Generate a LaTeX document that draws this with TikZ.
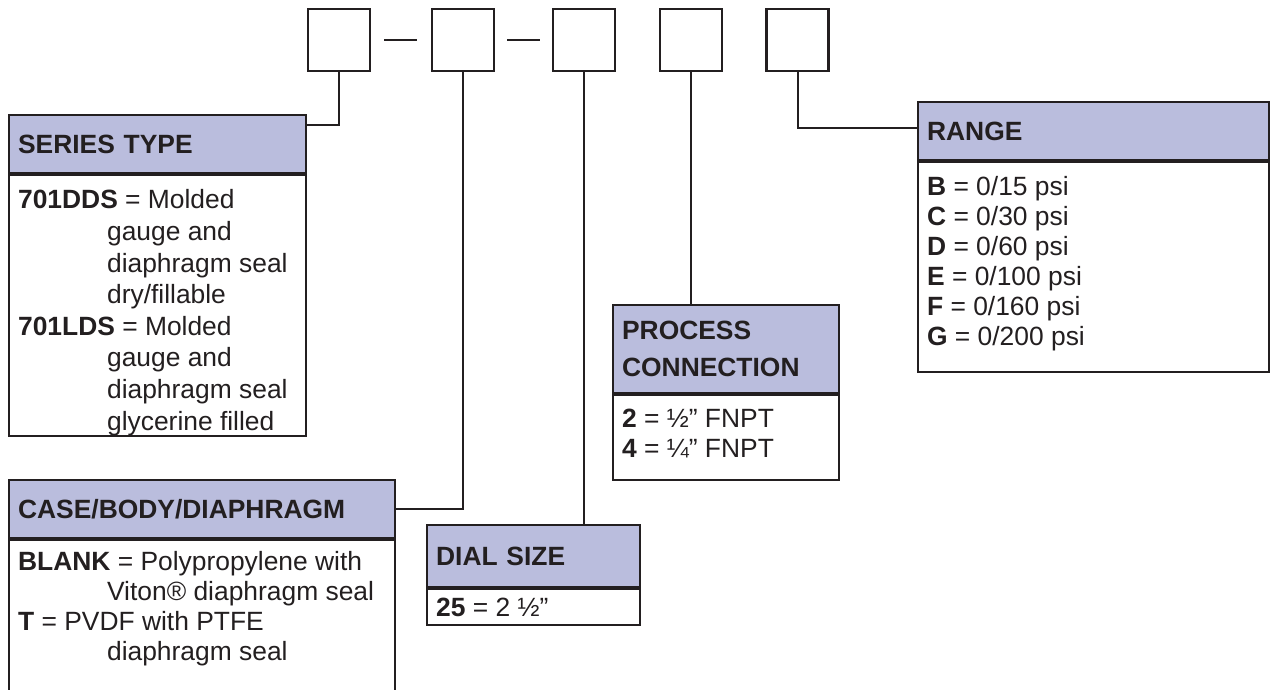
\documentclass[tikz,border=0pt]{standalone}
\usepackage{fontspec}
\setmainfont{Liberation Sans}

\definecolor{headfill}{RGB}{186,189,221}
\definecolor{ink}{RGB}{35,31,32}

% body text of a box: [top pad]{width}{height}{lines}
\newcommand{\bodytext}[4][7.2pt]{\parbox[t][#3][t]{#2}{\raggedright\vspace*{#1}#4}}
\newcommand{\ind}{\hspace*{44.5pt}}

\tikzset{
  slot/.style={draw=ink, line width=1.1pt, minimum size=31pt, inner sep=0pt},
  headbox/.style={draw=ink, line width=1.1pt, fill=headfill, anchor=north west,
    inner xsep=4.5pt, inner ysep=0pt, align=left, text=ink,
    font=\bfseries\fontsize{13.2}{18.5}\selectfont},
  bodybox/.style={draw=ink, line width=1.1pt, fill=white, anchor=north west,
    inner xsep=4.5pt, inner ysep=0pt, text=ink,
    font=\fontsize{13.2}{15}\selectfont},
  link/.style={draw=ink, line width=1pt}
}

\begin{document}
\begin{tikzpicture}[x=0.5pt, y=-0.5pt]
  \useasboundingbox (0,0) rectangle (1271,690);

  %CODE SLOTS
  \node[slot] (t1) at (339,40.25) {};
  \node[slot] (t2) at (463,40.25) {};
  \node[slot] (t3) at (584,40.25) {};
  \node[slot] (t4) at (691,40.25) {};
  \node[slot] (t5) at (797.5,40.25) {};
  \draw[link, shorten <=6.5pt, shorten >=7pt] (t1.east) -- (t2.west);
  \draw[link, shorten <=6pt, shorten >=6pt] (t2.east) -- (t3.west);

  %SERIES TYPE
  \node[headbox, text width=139.5pt, minimum height=29pt] (series) at (8,114) {SERIES TYPE};
  \node[bodybox, font=\fontsize{13.2}{15.8}\selectfont] (seriesbody) at (series.south west)
    {\bodytext{139.5pt}{130.5pt}{\textbf{701DDS} = Molded\\
      \ind gauge and\\
      \ind diaphragm seal\\
      \ind dry/fillable\\
      \textbf{701LDS} = Molded\\
      \ind gauge and\\
      \ind diaphragm seal\\
      \ind glycerine filled}};

  %CASE/BODY/DIAPHRAGM
  \node[headbox, text width=184pt, minimum height=29pt] (case) at (8,479) {CASE/BODY/DIAPHRAGM};
  \node[bodybox] (casebody) at (case.south west)
    {\bodytext[5.4pt]{184pt}{75.5pt}{\textbf{BLANK} = Polypropylene with\\
      \ind Viton® diaphragm seal\\
      \textbf{T} = PVDF with PTFE\\
      \ind diaphragm seal}};

  %DIAL SIZE
  \node[headbox, text width=97.5pt, minimum height=31pt] (dial) at (426,524) {DIAL SIZE};
  \node[bodybox] (dialbody) at (dial.south west)
    {\bodytext[4.4pt]{97.5pt}{18pt}{\textbf{25} = 2 ½”}};

  %PROCESS CONNECTION
  \node[headbox, text width=104pt, minimum height=44pt] (proc) at (612,304) {PROCESS\\CONNECTION};
  \node[bodybox] (procbody) at (proc.south west)
    {\bodytext[7pt]{104pt}{42.5pt}{\textbf{2} = ½” FNPT\\
      \textbf{4} = ¼” FNPT}};

  %RANGE
  \node[headbox, text width=166.5pt, minimum height=29pt] (range) at (917,101) {RANGE};
  \node[bodybox] (rangebody) at (range.south west)
    {\bodytext{166.5pt}{105pt}{\textbf{B} = 0/15 psi\\
      \textbf{C} = 0/30 psi\\
      \textbf{D} = 0/60 psi\\
      \textbf{E} = 0/100 psi\\
      \textbf{F} = 0/160 psi\\
      \textbf{G} = 0/200 psi}};

  %CONNECTORS
  \draw[link] (t1.south) |- ([yshift=-5.5pt]series.north east);
  \draw[link] (t2.south) |- (case.east);
  \draw[link] (t3.south) -- (t3.south |- dial.north);
  \draw[link] (t4.south) -- (t4.south |- proc.north);
  \draw[link] (t5.south) |- ([yshift=1.5pt]range.west);
\end{tikzpicture}
\end{document}
